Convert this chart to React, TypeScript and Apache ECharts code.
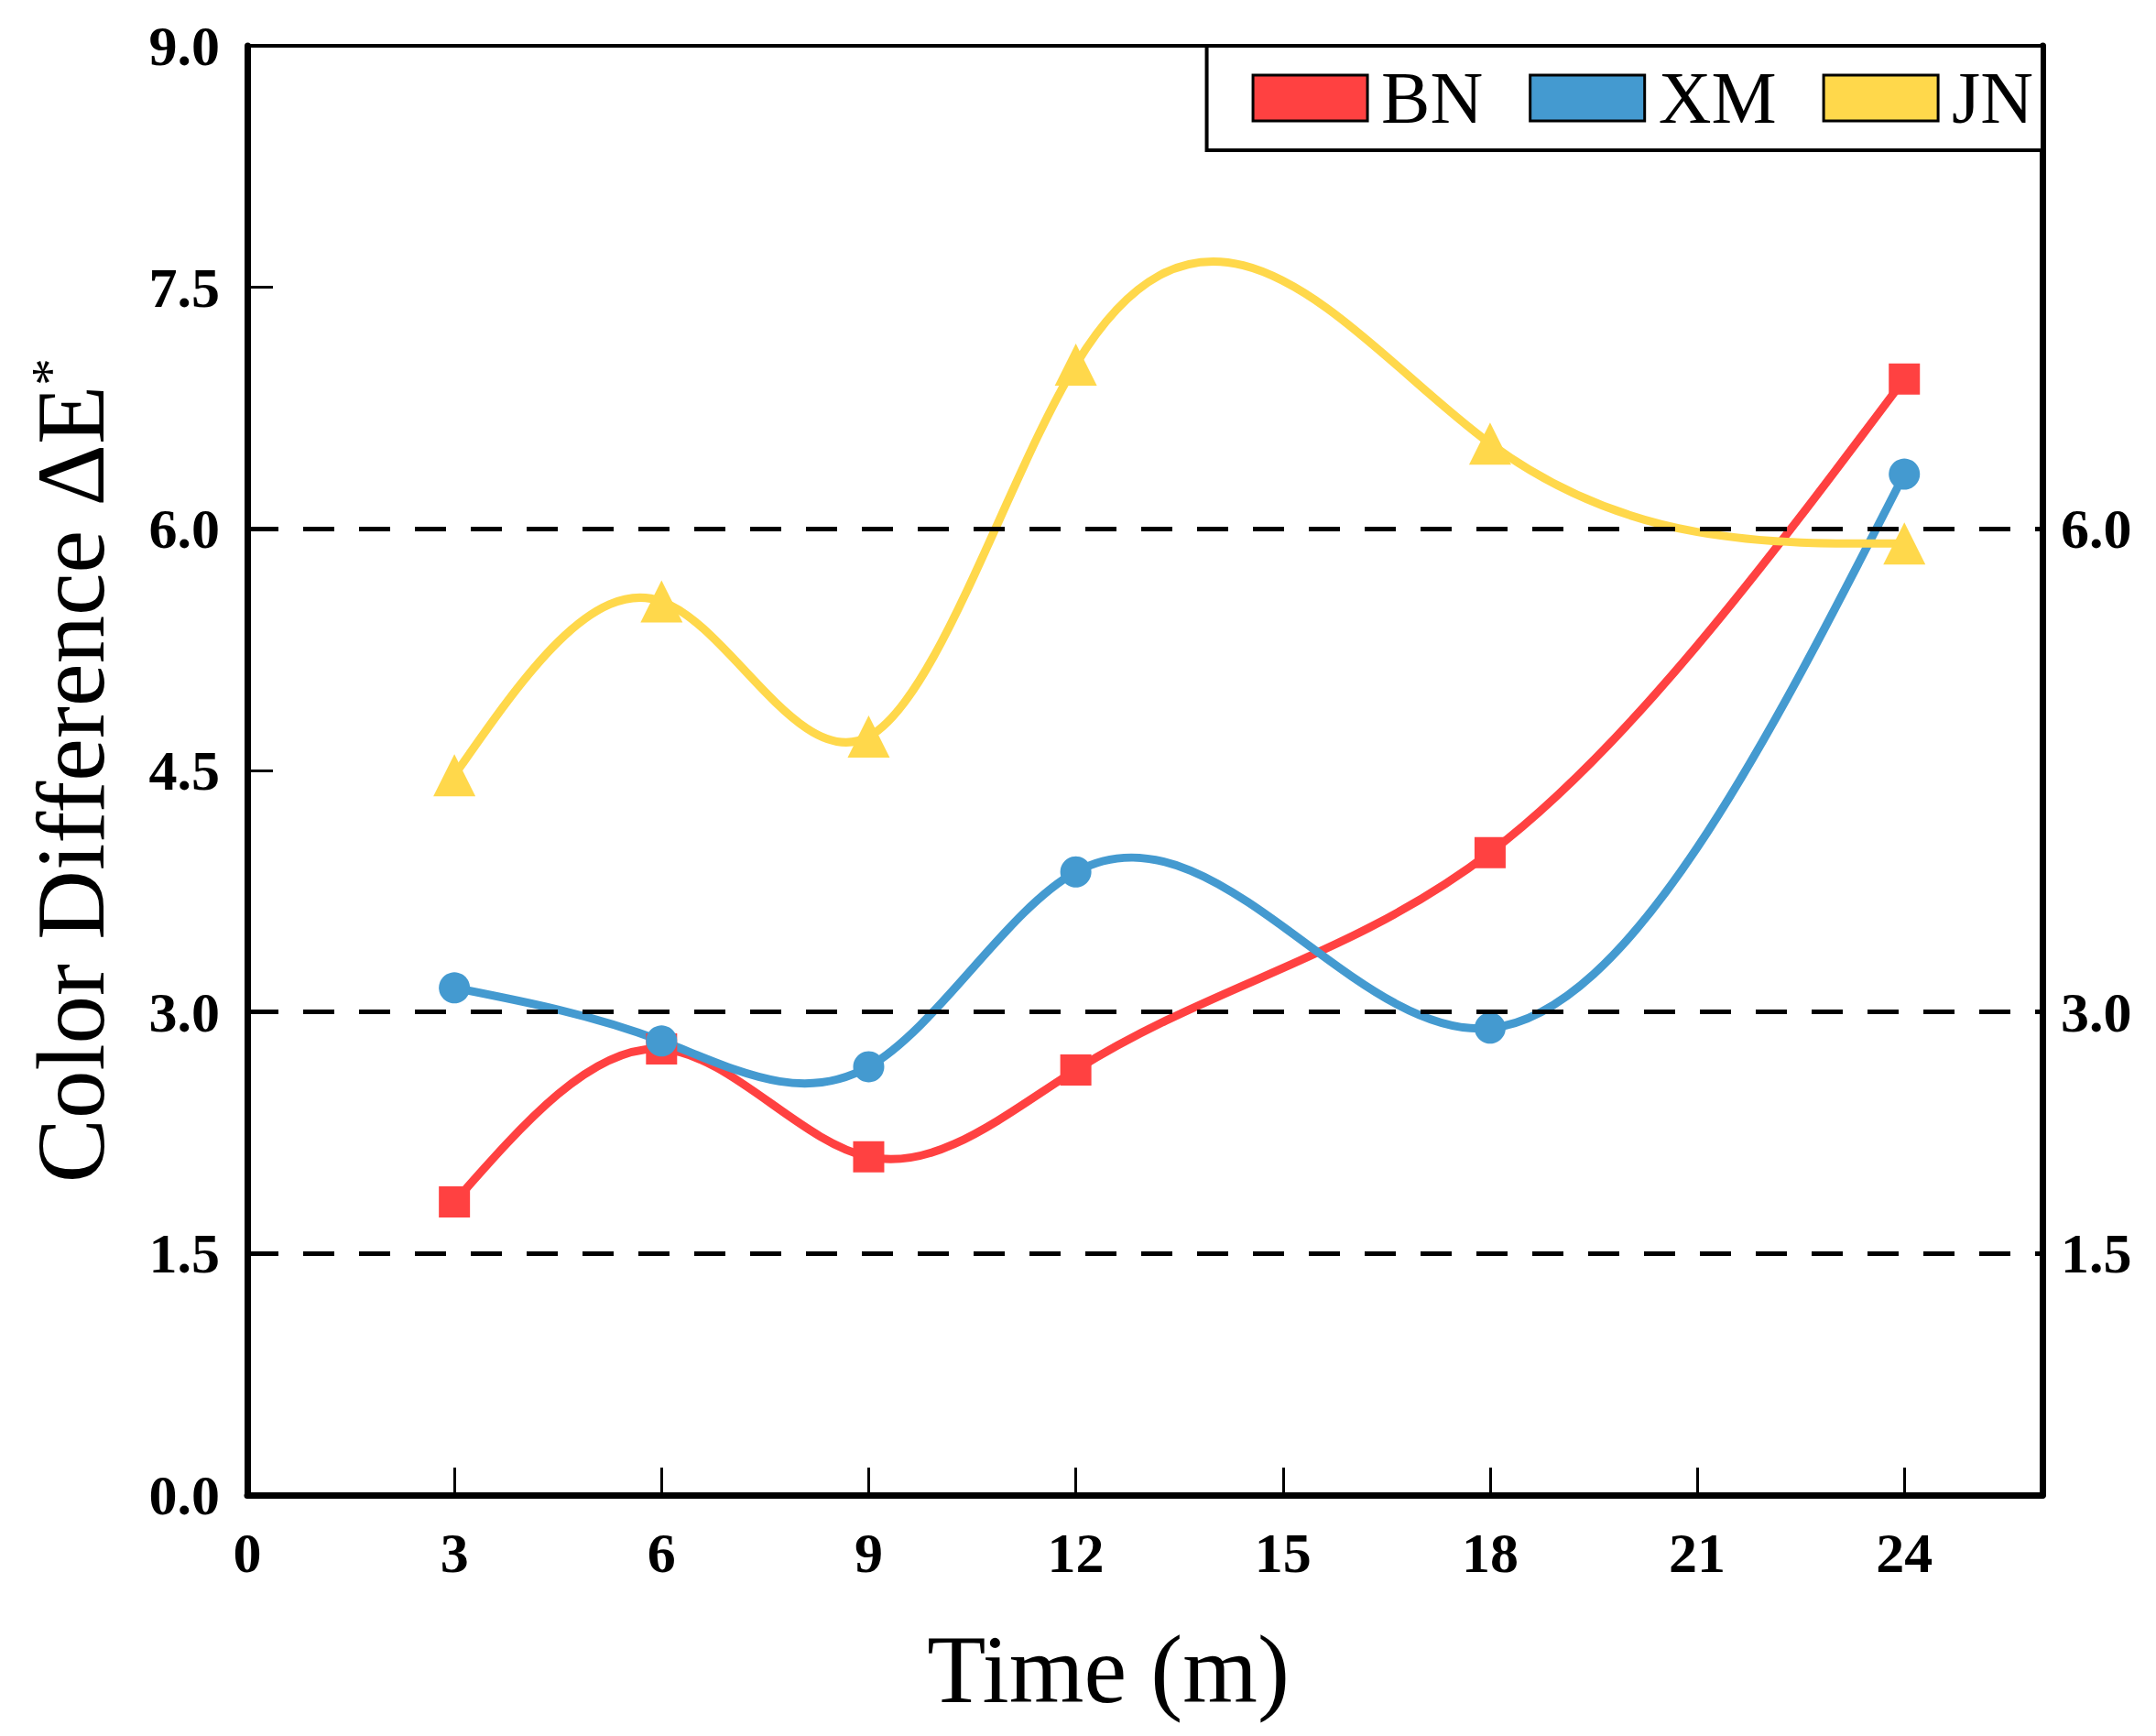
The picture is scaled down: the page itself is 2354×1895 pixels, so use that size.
import React, { useEffect, useRef } from 'react';
import * as echarts from 'echarts';

const months = [3, 6, 9, 12, 18, 24];
const bnValues = [1.82, 2.77, 2.1, 2.64, 3.99, 6.93];
const xmValues = [3.15, 2.82, 2.66, 3.87, 2.9, 6.34];
const jnValues = [4.47, 5.55, 4.71, 7.02, 6.53, 5.91];
const seriesNames = ['BN', 'XM', 'JN'];
const refLines = [1.5, 3.0, 6.0];

const colors = ['#FF4141', '#449AD0', '#FFD84B'];
const serif = "'Liberation Serif', 'Times New Roman', serif";

const toPairs = (ys: number[]) => months.map((m, i) => [m, ys[i]]);

// slopes of a natural cubic spline at each knot (what Origin's "spline" connector draws)
function splineSlopes(xs: number[], ys: number[]) {
  const n = xs.length;
  const h: number[] = [];
  const d: number[] = [];
  for (let i = 0; i < n - 1; i++) {
    h.push(xs[i + 1] - xs[i]);
    d.push((ys[i + 1] - ys[i]) / h[i]);
  }
  const m = new Array(n).fill(0);
  // tridiagonal solve for inner second derivatives
  const a: number[] = [], b: number[] = [], c: number[] = [], r: number[] = [];
  for (let i = 1; i < n - 1; i++) {
    a.push(h[i - 1]);
    b.push(2 * (h[i - 1] + h[i]));
    c.push(h[i]);
    r.push(6 * (d[i] - d[i - 1]));
  }
  const k = b.length;
  for (let i = 1; i < k; i++) {
    const w = a[i] / b[i - 1];
    b[i] -= w * c[i - 1];
    r[i] -= w * r[i - 1];
  }
  const sol = new Array(k).fill(0);
  for (let i = k - 1; i >= 0; i--) {
    sol[i] = (r[i] - (i < k - 1 ? c[i] * sol[i + 1] : 0)) / b[i];
  }
  for (let i = 0; i < k; i++) m[i + 1] = sol[i];
  const s: number[] = [];
  for (let i = 0; i < n - 1; i++) s.push(d[i] - (h[i] * (2 * m[i] + m[i + 1])) / 6);
  s.push(d[n - 2] + (h[n - 2] * (m[n - 2] + 2 * m[n - 1])) / 6);
  return s;
}

const App: React.FC = () => {
  const chartRef = useRef<HTMLDivElement>(null);

  useEffect(() => {
    if (!chartRef.current) return;
    const chart = echarts.init(chartRef.current, undefined, { renderer: 'svg' });

    const tickLabel = { fontFamily: serif, fontWeight: 'bold' as const, fontSize: 62, color: '#000' };

    const curveSeries = (values: number[], idx: number) => {
      const slopes = splineSlopes(months, values);
      return {
        type: 'custom' as const,
        id: 'curve' + idx,
        data: toPairs(values),
        encode: { x: 0, y: 1 },
        z: 2,
        silent: true,
        clip: false,
        renderItem: (params: any, api: any) => {
          const i = params.dataIndex;
          if (i >= months.length - 1) return null;
          const x0 = months[i];
          const x1 = months[i + 1];
          const hh = x1 - x0;
          const p0 = api.coord([x0, values[i]]);
          const p1 = api.coord([x1, values[i + 1]]);
          const c0 = api.coord([x0 + hh / 3, values[i] + (slopes[i] * hh) / 3]);
          const c1 = api.coord([x1 - hh / 3, values[i + 1] - (slopes[i + 1] * hh) / 3]);
          return {
            type: 'bezierCurve',
            shape: { x1: p0[0], y1: p0[1], cpx1: c0[0], cpy1: c0[1], cpx2: c1[0], cpy2: c1[1], x2: p1[0], y2: p1[1] },
            style: { stroke: colors[idx], lineWidth: 9, fill: null, lineCap: 'round' },
          };
        },
      };
    };

    const markerSeries = (name: string, values: number[], idx: number, symbol: string, size: number) => ({
      name,
      type: 'scatter' as const,
      data: toPairs(values),
      symbol,
      symbolSize: size,
      z: 3,
      itemStyle: { color: colors[idx], opacity: 1 },
    });

    const option: echarts.EChartsOption = {
      animation: false,
      backgroundColor: '#fff',
      grid: { left: 262, right: 116, top: 42, bottom: 255 },
      legend: {
        data: seriesNames,
        right: 116,
        top: 42,
        orient: 'horizontal',
        icon: 'rect',
        itemWidth: 125,
        itemHeight: 50,
        itemGap: 50,
        padding: [17, 10, 17, 49],
        backgroundColor: '#fff',
        borderColor: '#000',
        borderWidth: 4,
        itemStyle: { borderColor: '#000', borderWidth: 3 },
        textStyle: { fontFamily: serif, fontSize: 80, lineHeight: 80, color: '#000', padding: [0, 0, 0, 10] },
      },
      xAxis: [
        {
          type: 'value',
          position: 'bottom',
          min: 0,
          max: 26,
          interval: 3,
          name: 'Time (m)',
          nameLocation: 'middle',
          nameGap: 138,
          nameTextStyle: { fontFamily: serif, fontSize: 105, color: '#000', padding: [0, 80, 0, 0] },
          axisLine: { show: true, lineStyle: { color: '#000', width: 7 } },
          axisTick: { show: true, inside: true, length: 30, lineStyle: { color: '#000', width: 3 } },
          axisLabel: {
            ...tickLabel,
            margin: 32,
            showMaxLabel: false,
            formatter: (v: number) => (v === 26 ? '' : String(v)),
          },
          splitLine: { show: false },
        },
        {
          type: 'value',
          position: 'top',
          min: 0,
          max: 26,
          axisLine: { show: true, onZero: false, lineStyle: { color: '#000', width: 4 } },
          axisTick: { show: false },
          axisLabel: { show: false },
          splitLine: { show: false },
        },
      ],
      yAxis: [
        {
          type: 'value',
          position: 'left',
          min: 0,
          max: 9,
          interval: 1.5,
          name: '{a|Color Difference ΔE}{s|*}',
          nameLocation: 'middle',
          nameGap: 140,
          nameTextStyle: {
            fontFamily: serif,
            color: '#000',
            rich: {
              a: { fontFamily: serif, fontSize: 105, color: '#000' },
              s: { fontFamily: serif, fontSize: 60, color: '#000', verticalAlign: 'top', padding: [0, 0, 30, 0] },
            },
          },
          axisLine: { show: true, lineStyle: { color: '#000', width: 7 } },
          axisTick: { show: true, inside: true, length: 28, lineStyle: { color: '#000', width: 3 } },
          axisLabel: { ...tickLabel, margin: 30, formatter: (v: number) => v.toFixed(1) },
          splitLine: { show: false },
        },
        {
          type: 'value',
          position: 'right',
          min: 0,
          max: 9,
          interval: 1.5,
          axisLine: { show: true, onZero: false, lineStyle: { color: '#000', width: 7 } },
          axisTick: { show: false },
          axisLabel: {
            ...tickLabel,
            margin: 20,
            formatter: (v: number) => (refLines.includes(v) ? v.toFixed(1) : ''),
          },
          splitLine: { show: false },
        },
      ],
      series: [
        {
          type: 'line',
          data: [],
          z: 1,
          silent: true,
          markLine: {
            silent: true,
            symbol: ['none', 'none'],
            label: { show: false },
            lineStyle: { color: '#000', width: 5, type: [34, 27] },
            data: refLines.map((v) => ({ yAxis: v })),
          },
        },
        curveSeries(bnValues, 0),
        curveSeries(xmValues, 1),
        curveSeries(jnValues, 2),
        markerSeries('BN', bnValues, 0, 'rect', 34),
        markerSeries('XM', xmValues, 1, 'circle', 34),
        markerSeries('JN', jnValues, 2, 'triangle', 46),
      ],
    };

    chart.setOption(option);
    return () => {
      chart.dispose();
    };
  }, []);

  return <div ref={chartRef} style={{ width: 2338, height: 1879 }} />;
};

export default App;
